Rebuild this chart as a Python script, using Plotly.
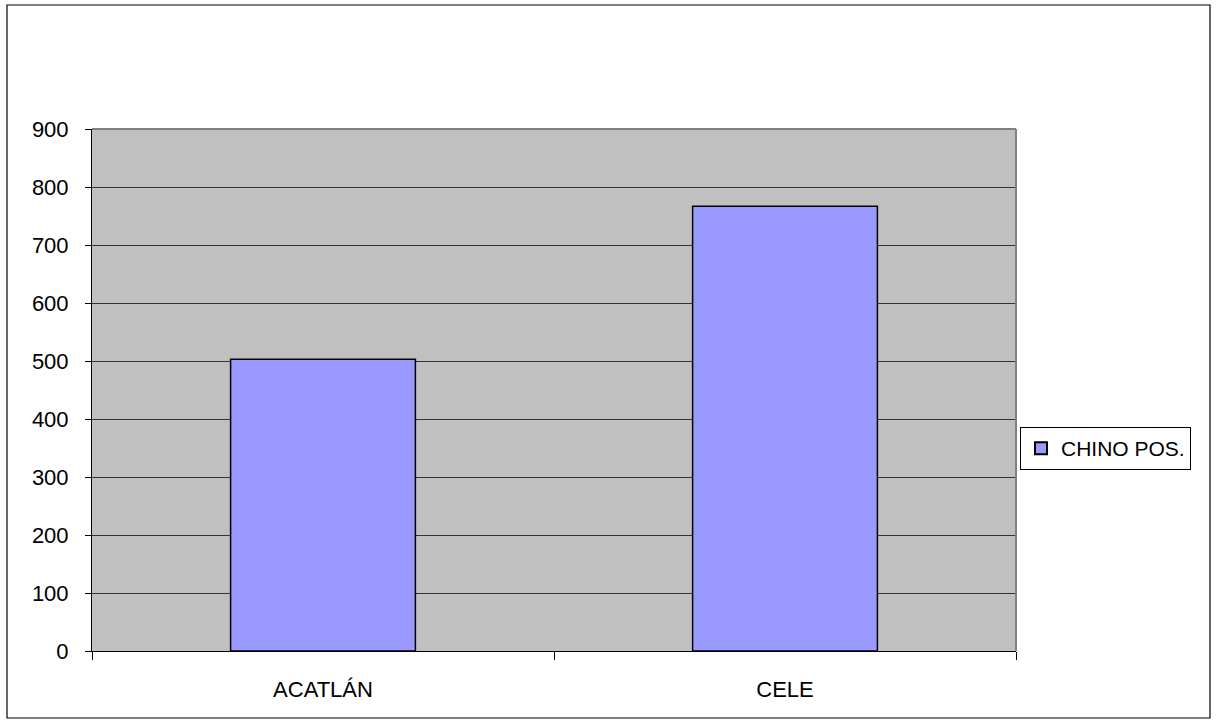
import plotly.graph_objects as go

# Category labels and values for the single series
categories = ["ACATLÁN", "CELE"]
values = [503, 767]
series_name = "CHINO POS."

W, H = 1217, 727
L, R, T, B = 92, 201, 129, 76
pw, ph = W - L - R, H - T - B

fig = go.Figure()
fig.add_trace(go.Bar(
    x=categories,
    y=values,
    name=series_name,
    marker=dict(color="#9999FF", line=dict(color="#000000", width=1.5)),
    width=0.4,
    showlegend=True,
))

def px_x(x):
    return (x - L) / pw

def px_y(y):
    return (H - B - y) / ph

shapes = [
    # outer chart frame
    dict(type="rect", xref="paper", yref="paper",
         x0=px_x(7), x1=px_x(1210), y0=px_y(718), y1=px_y(5),
         line=dict(color="#000000", width=1.2), fillcolor="rgba(0,0,0,0)", layer="below"),
    # plot area border (top and right)
    dict(type="line", xref="paper", yref="paper", x0=0, x1=1, y0=1, y1=1,
         line=dict(color="#808080", width=2)),
    dict(type="line", xref="paper", yref="paper", x0=1, x1=1, y0=0, y1=1,
         line=dict(color="#808080", width=2)),
]

fig.update_layout(
    width=W, height=H,
    margin=dict(l=L, r=R, t=T, b=B, pad=0),
    paper_bgcolor="#FFFFFF",
    plot_bgcolor="#C0C0C0",
    font=dict(family="Liberation Sans, Arial, sans-serif", size=22, color="#000000"),
    bargap=0.6,
    shapes=shapes,
    showlegend=True,
    legend=dict(
        x=px_x(1020), y=px_y(427), xanchor="left", yanchor="top",
        bordercolor="#000000", borderwidth=1, bgcolor="#FFFFFF",
        font=dict(size=21), itemsizing="constant", itemwidth=30,
        tracegroupgap=0,
    ),
    xaxis=dict(
        showline=True, linecolor="#000000", linewidth=1,
        ticks="outside", ticklen=8, tickcolor="#000000", tickwidth=1,
        tickson="boundaries",
        showgrid=False, zeroline=False,
        ticklabelstandoff=19,
    ),
    yaxis=dict(
        range=[0, 900], dtick=100,
        showline=True, linecolor="#000000", linewidth=1,
        ticks="outside", ticklen=6, tickcolor="#000000", tickwidth=1,
        showgrid=True, gridcolor="#333333", gridwidth=1,
        zeroline=False,
        ticklabelstandoff=12,
    ),
)

fig.write_html("out.html")
